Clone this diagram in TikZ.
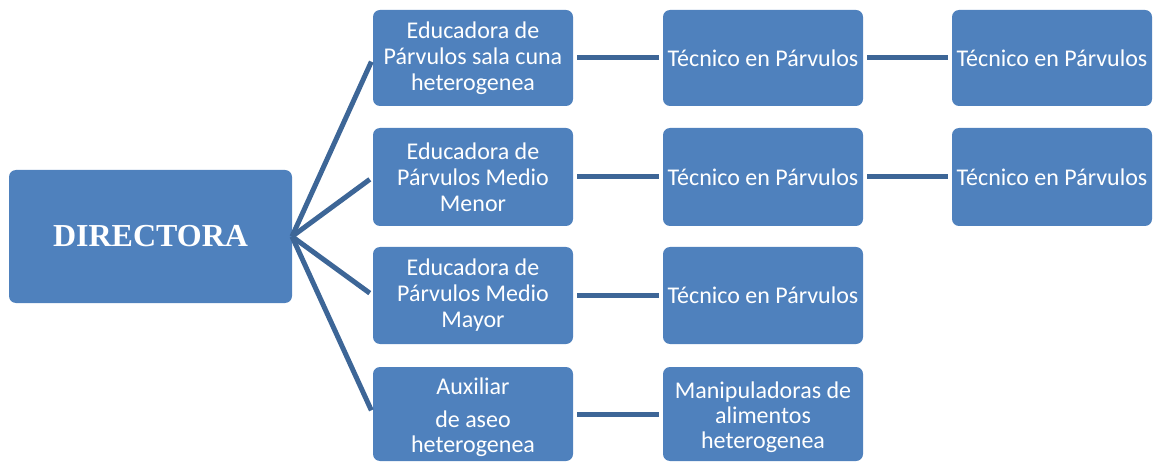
\documentclass[tikz,border=0pt]{standalone}
\usepackage{fontspec}
\setmainfont{Carlito}
\newfontfamily\dirfont{Liberation Serif}
\definecolor{boxblue}{HTML}{4F81BD}
\definecolor{lineblue}{HTML}{3D6697}
\begin{document}
\begin{tikzpicture}[x=1pt,y=-1pt,
  box/.style={fill=boxblue, draw=none, rounded corners=7pt, minimum width=200pt,
    text=white, align=center, font=\fontsize{24}{26}\selectfont, inner sep=0pt, outer sep=0pt},
  boxtext/.style={text=white, align=center, font=\fontsize{24}{25}\selectfont, inner sep=0pt},
  conn/.style={draw=lineblue, line width=5pt, shorten <=4pt, shorten >=4pt}]
\useasboundingbox (0,0) rectangle (1156,462);
\node[box, minimum width=283pt, minimum height=133pt, font=\dirfont\bfseries\fontsize{32}{36}\selectfont] (dir) at (150.5,236.5) {DIRECTORA};
% column 1
\node[box, minimum height=96pt] (e1) at (473,58) {Educadora de\\Párvulos sala cuna\\heterogenea};
\node[box, minimum height=98pt] (e2) at (473,177) {Educadora de\\Párvulos Medio\\Menor};
\node[box, minimum height=97pt] (e3) at (473,295.5) {Educadora de\\Párvulos Medio\\Mayor};
\node[box, minimum height=94pt] (e4) at (473,414) {};
\node[boxtext] (e4t) at (473,417) {Auxiliar\\[8pt]de aseo\\heterogenea};
% column 2
\node[box, minimum height=96pt] (t1) at (763,58) {Técnico en Párvulos};
\node[box, minimum height=98pt] (t2) at (763,177) {Técnico en Párvulos};
\node[box, minimum height=97pt] (t3) at (763,295.5) {Técnico en Párvulos};
\node[box, minimum height=94pt] (m4) at (763,414) {};
\node[boxtext] (m4t) at (763,417) {Manipuladoras de\\alimentos\\heterogenea};
% column 3
\node[box, minimum height=96pt] (s1) at (1052,58) {Técnico en Párvulos};
\node[box, minimum height=98pt] (s2) at (1052,177) {Técnico en Párvulos};
% connectors
\foreach \n in {e1,e2,e3,e4}{
  \draw[conn, shorten <=0pt] (dir.east) -- (\n.west);
}
\draw[conn] (e1) -- (t1);
\draw[conn] (e2) -- (t2);
\draw[conn] (e3) -- (t3);
\draw[conn] (e4) -- (m4);
\draw[conn] (t1) -- (s1);
\draw[conn] (t2) -- (s2);
\end{tikzpicture}
\end{document}
